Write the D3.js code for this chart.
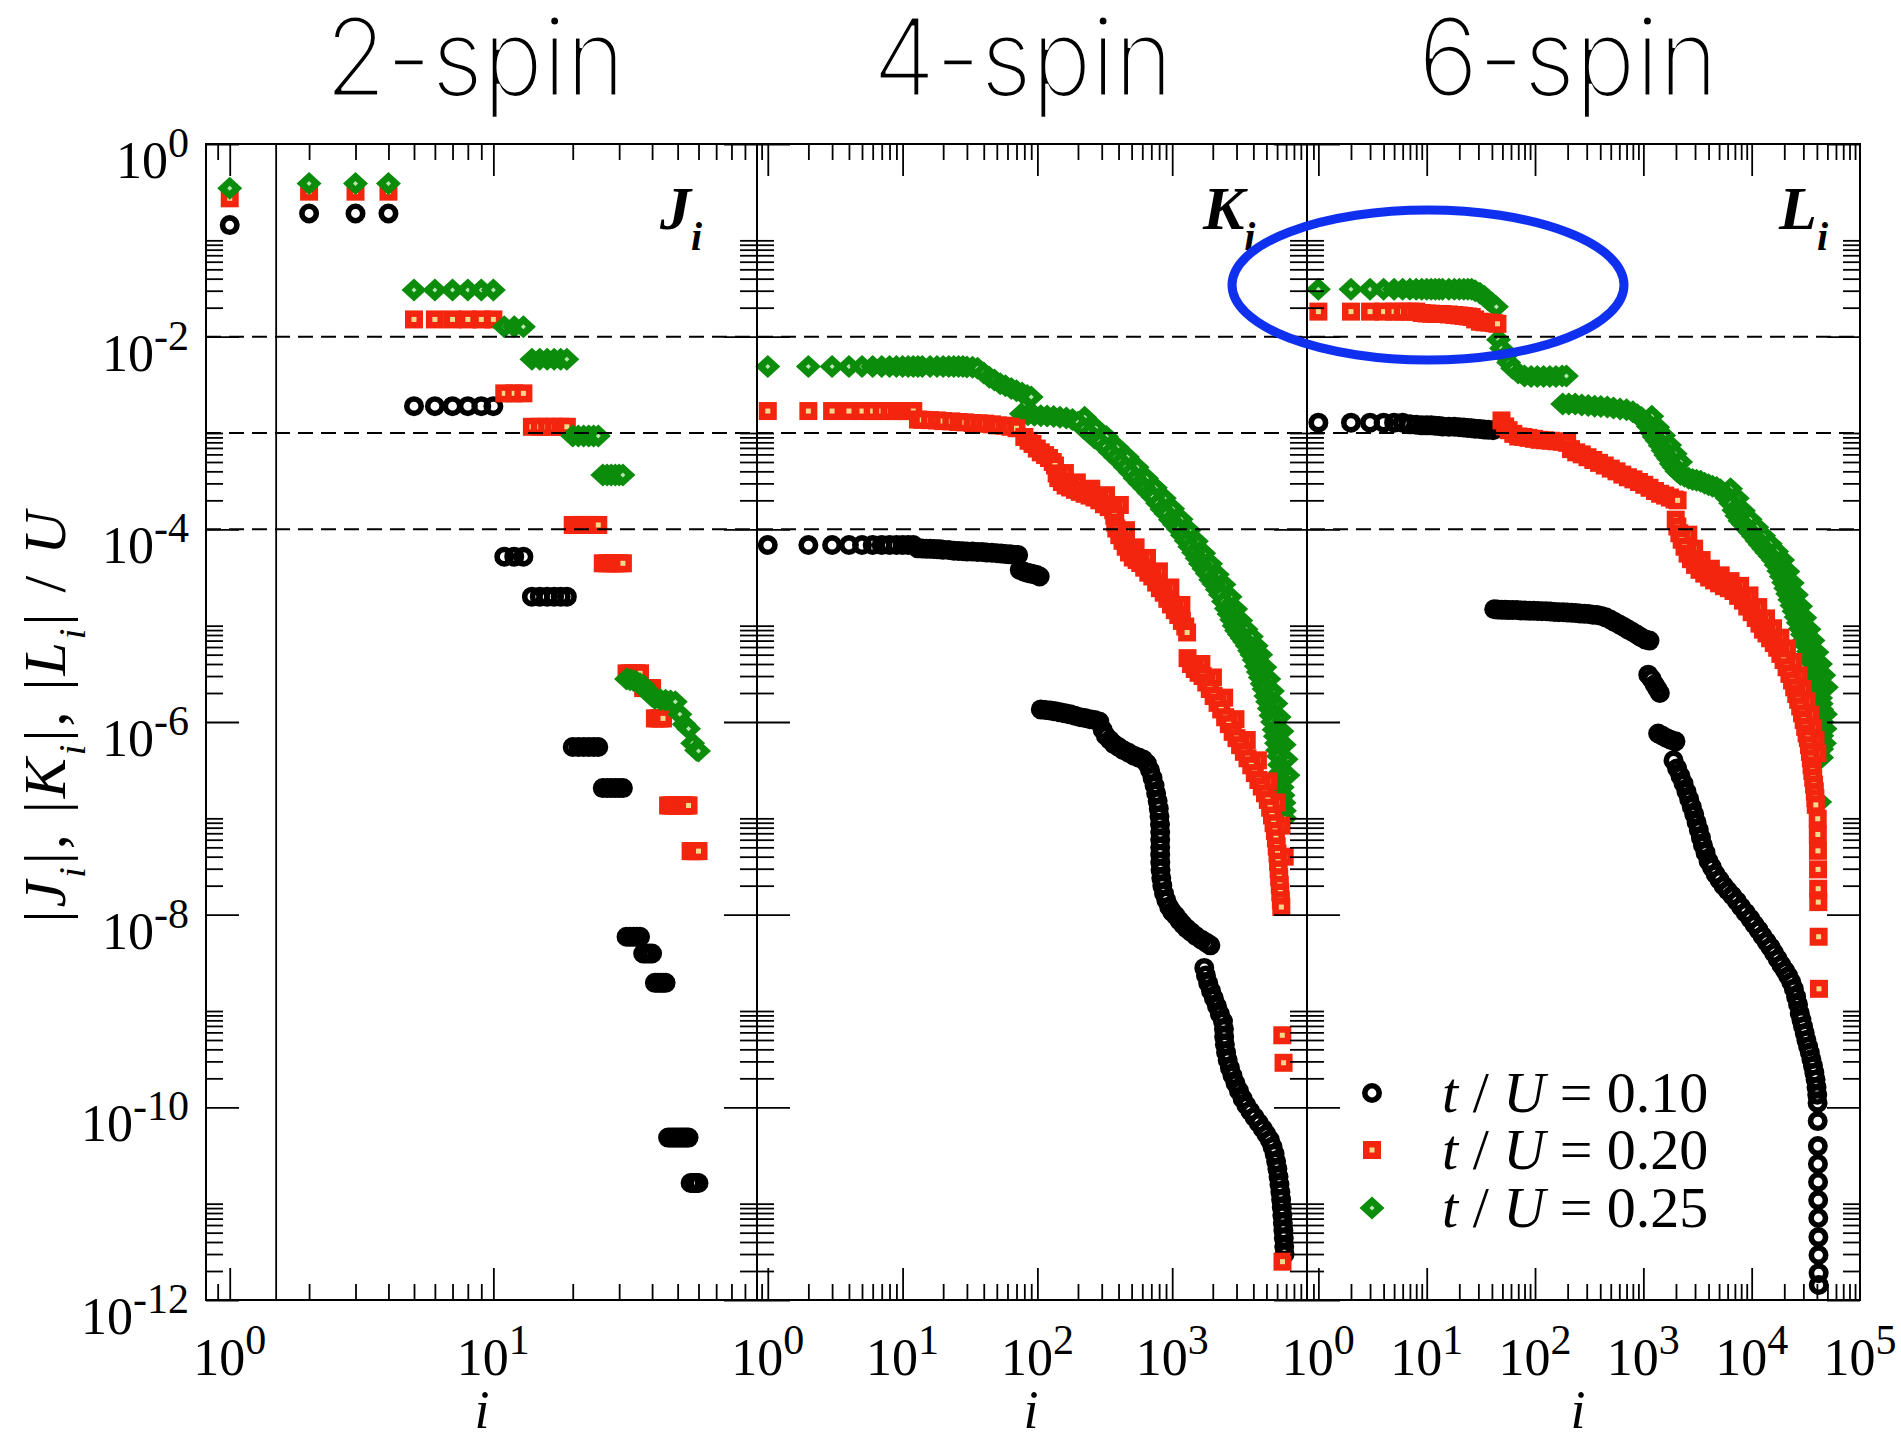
<!DOCTYPE html>
<html>
<head>
<meta charset="utf-8">
<script src="https://cdn.jsdelivr.net/npm/d3@7"></script>
<style>
  body { margin: 0; background: #ffffff; }
  svg text { font-family: "Liberation Serif", "Times New Roman", serif; fill: #000; }
</style>
</head>
<body>
<div id="chart"></div>
<script>
// ---- data: [i, |coupling| / U] ----

// 2-spin couplings J_i
var spin2Black = [[1,0.144],[2,0.19],[3,0.19],[4,0.19],
  [5,1.9e-3],[6,1.9e-3],[7,1.9e-3],[8,1.9e-3],[9,1.9e-3],[10,1.9e-3],
  [11,5.2e-5],[12,5.2e-5],[13,5.2e-5],
  [14,2.0e-5],[15,2.0e-5],[16,2.0e-5],[17,2.0e-5],[18,2.0e-5],[19,2.0e-5],
  [20,5.5e-7],[21,5.5e-7],[22,5.5e-7],[23,5.5e-7],[24,5.5e-7],[25,5.5e-7],
  [26,2.06e-7],[27,2.06e-7],[28,2.06e-7],[29,2.06e-7],[30,2.06e-7],[31,2.06e-7],
  [32,5.9e-9],[33,5.9e-9],[34,5.9e-9],[35,5.9e-9],[36,5.9e-9],
  [37,3.95e-9],[38,3.95e-9],[39,3.95e-9],[40,3.95e-9],
  [41,1.96e-9],[42,1.96e-9],[43,1.96e-9],[44,1.96e-9],[45,1.96e-9],
  [46,4.85e-11],[47,4.85e-11],[48,4.85e-11],[49,4.85e-11],[50,4.85e-11],[51,4.85e-11],[52,4.85e-11],[53,4.85e-11],[54,4.85e-11],[55,4.85e-11],
  [56,1.64e-11],[57,1.64e-11],[58,1.64e-11],[59,1.64e-11],[60,1.64e-11]];

var spin2Red = [[1,0.273],[2,0.32],[3,0.32],[4,0.32],
  [5,0.0151],[6,0.0151],[7,0.0151],[8,0.0151],[9,0.0151],[10,0.0151],
  [11,2.58e-3],[12,2.58e-3],[13,2.58e-3],
  [14,1.16e-3],[15,1.16e-3],[16,1.16e-3],[17,1.16e-3],[18,1.16e-3],[19,1.16e-3],
  [20,1.11e-4],[21,1.11e-4],[22,1.11e-4],[23,1.11e-4],[24,1.11e-4],[25,1.11e-4],
  [26,4.44e-5],[27,4.44e-5],[28,4.44e-5],[29,4.44e-5],[30,4.44e-5],[31,4.44e-5],
  [32,3.2e-6],[33,3.2e-6],[34,3.2e-6],[35,3.2e-6],[36,3.2e-6],
  [37,2.25e-6],[38,2.25e-6],[39,2.25e-6],[40,2.25e-6],
  [41,1.09e-6],[42,1.09e-6],[43,1.09e-6],[44,1.09e-6],
  [46,1.36e-7],[47,1.36e-7],[48,1.36e-7],[49,1.36e-7],[50,1.36e-7],[51,1.36e-7],[52,1.36e-7],[53,1.36e-7],[54,1.36e-7],[55,1.36e-7],
  [56,4.57e-8],[57,4.57e-8],[58,4.57e-8],[59,4.57e-8],[60,4.57e-8]];

var spin2Green = [[1,0.347],[2,0.39],[3,0.39],[4,0.39],
  [5,0.0305],[6,0.0305],[7,0.0305],[8,0.0305],[9,0.0305],[10,0.0305],
  [11,0.0127],[12,0.0127],[13,0.0127],
  [14,5.82e-3],[15,5.82e-3],[16,5.82e-3],[17,5.82e-3],[18,5.82e-3],[19,5.82e-3],
  [20,9.3e-4],[21,9.3e-4],[22,9.3e-4],[23,9.3e-4],[24,9.3e-4],[25,9.3e-4],
  [26,3.66e-4],[27,3.66e-4],[28,3.66e-4],[29,3.66e-4],[30,3.66e-4],[31,3.66e-4],
  [32,2.8e-6],[33,2.75e-6],[34,2.7e-6],[35,2.6e-6],[36,2.5e-6],[37,2.4e-6],[38,2.2e-6],[39,2.0e-6],[40,1.85e-6],
  [41,1.75e-6],[43,1.7e-6],[45,1.68e-6],[47,1.65e-6],[49,1.62e-6],[51,1.2e-6],[53,9.5e-7],[55,8.5e-7],[57,6.0e-7],[59,5.1e-7],[60,5.0e-7]];

// 4-spin couplings K_i
var spin4Black = [[1,6.87e-5],[2,6.87e-5],[3,6.87e-5],[4,6.87e-5],[5,6.87e-5],[6,6.87e-5],[7,6.87e-5],[8,6.87e-5],[9,6.87e-5],[10,6.87e-5],[11,6.87e-5],[12,6.87e-5],
  [13,6.35e-5],[14,6.33e-5],[15,6.3e-5],[16,6.28e-5],[17,6.25e-5],[18,6.22e-5],[19,6.2e-5],[20,6.15e-5],[22,6.1e-5],[24,6.0e-5],[26,5.97e-5],[28,5.93e-5],[30,5.9e-5],
  [33,5.87e-5],[36,5.83e-5],[39,5.8e-5],[42,5.75e-5],[46,5.7e-5],[50,5.65e-5],[54,5.6e-5],[58,5.55e-5],[63,5.5e-5],[68,5.42e-5],[72,5.4e-5],
  [74,3.8e-5],[79,3.65e-5],[84,3.55e-5],[89,3.48e-5],[94,3.42e-5],[99,3.35e-5],[104,3.24e-5],
  [106,1.35e-6],[115,1.33e-6],[125,1.32e-6],[136,1.29e-6],[148,1.26e-6],[161,1.23e-6],[175,1.2e-6],[190,1.16e-6],[207,1.12e-6],[225,1.1e-6],
  [245,1.07e-6],[266,1.05e-6],[288,1.01e-6],[305,8.3e-7],[322,7.2e-7],[345,6.5e-7],[370,5.9e-7],[400,5.5e-7],[435,5.1e-7],[475,4.8e-7],
  [520,4.47e-7],[565,4.27e-7],[610,4.07e-7],[650,3.7e-7],[685,3.16e-7],[715,2.63e-7],[740,2.19e-7],[760,1.82e-7],[780,1.51e-7],[795,1.26e-7],
  [805,1.05e-7],[812,8.7e-8],[815,7.2e-8],[815,6.0e-8],[815,5.0e-8],[815,4.2e-8],[816,3.47e-8],[820,2.9e-8],[830,2.4e-8],[845,2.0e-8],
  [870,1.66e-8],[905,1.41e-8],[950,1.2e-8],[1000,1.07e-8],[1060,9.8e-9],[1130,8.7e-9],[1200,7.9e-9],[1280,7.2e-9],[1380,6.6e-9],[1500,6.0e-9],
  [1650,5.5e-9],[1800,5.1e-9],[1920,4.8e-9],
  [1730,2.8e-9],[1780,2.34e-9],[1850,1.95e-9],[1940,1.62e-9],[2040,1.35e-9],[2150,1.12e-9],[2260,9.3e-10],[2380,7.8e-10],[2420,6.5e-10],[2430,5.4e-10],
  [2460,4.5e-10],[2510,3.7e-10],[2580,3.1e-10],[2680,2.57e-10],[2800,2.14e-10],[2950,1.78e-10],[3130,1.48e-10],[3330,1.23e-10],[3550,1.05e-10],[3800,9.1e-11],
  [4080,7.9e-11],[4380,6.9e-11],[4700,6.0e-11],[5000,5.25e-11],[5300,4.6e-11],[5550,3.9e-11],[5750,3.3e-11],[5900,2.75e-11],[6030,2.3e-11],[6150,1.9e-11],
  [6250,1.58e-11],[6350,1.32e-11],[6430,1.1e-11],[6500,9.1e-12],[6560,7.6e-12],[6620,6.3e-12],[6680,5.25e-12],[6730,4.4e-12],[6780,3.6e-12],[6820,3.0e-12]];

var spin4Red = [[1,1.69e-3],[2,1.69e-3],[3,1.69e-3],[4,1.69e-3],[5,1.69e-3],[6,1.69e-3],[7,1.69e-3],[8,1.69e-3],[9,1.69e-3],[10,1.69e-3],[11,1.69e-3],[12,1.69e-3],
  [13,1.38e-3],[14,1.37e-3],[16,1.36e-3],[18,1.35e-3],[20,1.33e-3],[23,1.32e-3],[26,1.3e-3],[29,1.29e-3],[33,1.27e-3],[37,1.26e-3],[41,1.25e-3],
  [46,1.23e-3],[51,1.2e-3],[57,1.19e-3],[63,1.16e-3],[70,1.12e-3],
  [80,9.1e-4],[86,8.3e-4],[92,7.7e-4],[99,6.9e-4],[106,6.3e-4],[114,5.9e-4],[122,5.5e-4],[130,5.0e-4],[135,4.6e-4],[139,3.8e-4],[143,3.4e-4],
  [152,3.1e-4],[162,2.85e-4],[175,2.72e-4],[190,2.57e-4],[206,2.45e-4],[224,2.34e-4],[244,2.24e-4],[265,2.14e-4],[288,2.0e-4],[312,1.82e-4],
  [338,1.7e-4],[365,1.58e-4],[372,1.38e-4],[378,1.17e-4],[385,1.02e-4],[405,8.7e-5],[428,7.6e-5],[452,6.6e-5],[478,5.75e-5],[510,5.1e-5],
  [545,4.8e-5],[580,4.47e-5],[620,4.0e-5],[665,3.55e-5],[712,3.24e-5],[760,2.8e-5],[810,2.45e-5],[865,2.2e-5],[920,1.9e-5],[980,1.66e-5],
  [1045,1.45e-5],[1110,1.29e-5],[1180,1.12e-5],[1250,9.8e-6],[1290,8.5e-6],
  [1300,4.6e-6],[1380,4.0e-6],[1470,3.55e-6],[1570,3.24e-6],[1680,3.0e-6],[1790,2.57e-6],[1900,2.2e-6],[2030,1.86e-6],[2170,1.58e-6],[2310,1.35e-6],
  [2470,1.12e-6],[2630,9.5e-7],[2810,7.9e-7],[3000,6.8e-7],[3190,5.75e-7],[3400,4.9e-7],[3620,4.2e-7],[3860,3.55e-7],[4100,2.95e-7],[4360,2.5e-7],
  [4620,2.14e-7],[4880,1.82e-7],[5120,1.55e-7],[5330,1.29e-7],[5500,1.07e-7],[5650,8.9e-8],[5780,7.4e-8],[5880,6.2e-8],[5960,5.1e-8],[6040,4.3e-8],
  [6100,3.55e-8],[6160,2.95e-8],[6220,2.45e-8],[6280,2.04e-8],[6340,1.7e-8],[6400,1.41e-8],[6450,1.2e-8],
  [6560,5.6e-10],[6700,2.9e-10],[6580,2.5e-12]];
// right/upper edge of the wide red band
var spin4RedEdge = [[160,3.84e-4],[196,3.07e-4],[251,2.64e-4],[323,2.26e-4],[409,1.79e-4],[454,9.8e-5],[535,6.5e-5],[650,5.05e-5],
  [797,3.66e-5],[969,2.49e-5],[1170,1.64e-5],[1646,4.0e-6],[2005,2.9e-6],[2430,1.79e-6],[2946,1.07e-6],[3573,6.5e-7],[4323,4.0e-7],
  [5174,2.42e-7],[5970,1.46e-7],[6470,8.4e-8],[6830,4.0e-8]];

var spin4Green = [[1,4.9e-3],[2,4.9e-3],[3,4.9e-3],[4,4.9e-3],[5,4.9e-3],[6,4.9e-3],[7,4.9e-3],[8,4.9e-3],[9,4.9e-3],[10,4.9e-3],
  [11,4.9e-3],[12,4.9e-3],[13,4.9e-3],[14,4.9e-3],[16,4.9e-3],[18,4.9e-3],[20,4.9e-3],[22,4.9e-3],[24,4.9e-3],[26,4.9e-3],[28,4.9e-3],
  [30,4.85e-3],[33,4.8e-3],[36,4.7e-3],[40,4.2e-3],[44,3.8e-3],[48,3.55e-3],[53,3.25e-3],[58,3.1e-3],[64,2.9e-3],[70,2.75e-3],[77,2.6e-3],[84,2.45e-3],[90,2.37e-3],
  [76,1.58e-3],[85,1.55e-3],[95,1.53e-3],[106,1.51e-3],[118,1.5e-3],[132,1.48e-3],[147,1.46e-3],[164,1.43e-3],[182,1.38e-3],[200,1.29e-3],
  [220,1.12e-3],[242,1.0e-3],[265,8.9e-4],[290,8.1e-4],[318,7.2e-4],[348,6.3e-4],[380,5.6e-4],[415,5.0e-4],[450,4.4e-4],[490,3.9e-4],
  [530,3.4e-4],[575,3.0e-4],[620,2.7e-4],[670,2.4e-4],[720,2.16e-4],[780,1.86e-4],[840,1.62e-4],[900,1.45e-4],[970,1.26e-4],[1040,1.12e-4],
  [1110,1.01e-4],[1190,8.7e-5],[1270,7.6e-5],[1350,6.6e-5],[1440,5.75e-5],[1530,5.0e-5],[1620,4.4e-5],[1720,3.9e-5],[1820,3.47e-5],[1930,3.0e-5],
  [2040,2.7e-5],[2160,2.37e-5],[2280,2.1e-5],[2400,1.78e-5],[2520,1.51e-5],[2640,1.32e-5],[2760,1.15e-5],[2880,1.0e-5],[3000,8.9e-6],[3150,8.1e-6],
  [3300,7.4e-6],[3450,6.8e-6],[3600,6.2e-6],[3750,5.5e-6],[3900,5.0e-6],[4050,4.4e-6],[4200,3.8e-6],[4350,3.3e-6],[4500,2.9e-6],[4650,2.5e-6],
  [4800,2.2e-6],[4950,1.86e-6],[5100,1.62e-6],[5250,1.38e-6],[5400,1.17e-6],[5550,1.0e-6],[5700,8.3e-7],[5820,7.1e-7],[5940,6.0e-7],[6050,5.1e-7],
  [6150,4.4e-7],[6250,3.6e-7],[6350,3.0e-7],[6450,2.5e-7],[6550,2.1e-7],[6650,1.74e-7],[6750,1.45e-7],[6800,1.2e-7],[6850,1.0e-7]];
var spin4GreenEdge = [[224,1.46e-3],[271,1.13e-3],[325,9.2e-4],[390,7.1e-4],[465,5.65e-4],[549,4.4e-4],[644,3.4e-4],[750,2.7e-4],
  [874,2.1e-4],[1008,1.64e-4],[1165,1.27e-4],[1333,9.8e-5],[1512,7.5e-5],[1714,5.65e-5],[1926,4.4e-5],[2162,3.4e-5],[2419,2.68e-5],
  [2688,2.0e-5],[2957,1.49e-5],[3226,1.13e-5],[3528,9.2e-6],[3864,7.7e-6],[4200,6.2e-6],[4536,5.0e-6],[4872,3.7e-6],[5208,2.8e-6],
  [5544,2.1e-6],[5880,1.56e-6],[6216,1.13e-6],[6518,8.0e-7],[6776,5.8e-7],[7000,4.1e-7],[7224,2.8e-7]];

// 6-spin couplings L_i
var spin6Black = [[1,1.28e-3],[2,1.28e-3],[3,1.28e-3],[4,1.28e-3],[5,1.28e-3],[6,1.28e-3],
  [7,1.23e-3],[8,1.22e-3],[9,1.2e-3],[10,1.2e-3],[11,1.2e-3],[12,1.19e-3],[13,1.18e-3],[14,1.17e-3],[16,1.16e-3],[18,1.16e-3],[20,1.15e-3],
  [22,1.14e-3],[24,1.13e-3],[26,1.12e-3],[28,1.11e-3],[31,1.1e-3],[34,1.09e-3],[37,1.08e-3],[41,1.07e-3],
  [42,1.48e-5],[45,1.47e-5],[49,1.46e-5],[53,1.46e-5],[57,1.45e-5],[62,1.45e-5],[68,1.45e-5],[74,1.44e-5],[81,1.44e-5],[89,1.43e-5],
  [97,1.43e-5],[106,1.42e-5],[116,1.41e-5],[127,1.41e-5],[139,1.4e-5],[152,1.39e-5],[166,1.38e-5],[182,1.38e-5],[199,1.37e-5],[218,1.36e-5],
  [238,1.35e-5],[260,1.34e-5],[285,1.33e-5],[312,1.32e-5],[342,1.3e-5],[374,1.29e-5],[410,1.26e-5],[450,1.22e-5],[495,1.16e-5],[545,1.09e-5],
  [600,1.03e-5],[660,9.7e-6],[725,9.1e-6],[795,8.6e-6],[870,8.1e-6],[950,7.6e-6],[1040,7.2e-6],[1140,7.0e-6],
  [1110,3.1e-6],[1190,2.8e-6],[1270,2.45e-6],[1350,2.2e-6],[1420,2.0e-6],
  [1370,7.6e-7],[1500,7.2e-7],[1650,6.8e-7],[1800,6.5e-7],[1980,6.3e-7],
  [1900,4.0e-7],[2050,3.3e-7],[2200,2.75e-7],[2350,2.3e-7],[2500,1.9e-7],[2650,1.58e-7],[2800,1.32e-7],[2950,1.1e-7],[3100,9.1e-8],[3250,7.6e-8],
  [3400,6.3e-8],[3550,5.25e-8],[3750,4.4e-8],[4000,3.6e-8],[4300,3.1e-8],[4650,2.63e-8],[5050,2.3e-8],[5500,2.0e-8],[6000,1.78e-8],[6600,1.58e-8],
  [7300,1.38e-8],[8000,1.2e-8],[8800,1.05e-8],[9700,9.1e-9],[10600,7.9e-9],[11600,6.9e-9],[12600,6.0e-9],[13700,5.25e-9],[14900,4.6e-9],[16100,4.0e-9],
  [17400,3.47e-9],[18800,3.0e-9],[20300,2.63e-9],[21800,2.3e-9],[23200,2.0e-9],[24500,1.7e-9],[25700,1.41e-9],[26800,1.17e-9],[27800,9.5e-10],[28800,8.1e-10],
  [29800,6.9e-10],[30900,5.9e-10],[32000,5.0e-10],[33200,4.27e-10],[34400,3.7e-10],[35600,3.16e-10],[36800,2.7e-10],[37900,2.29e-10],[38900,1.95e-10],[39700,1.62e-10],
  [40300,1.35e-10],[40600,1.11e-10],[40700,7.2e-11],[40800,3.96e-11],[40900,2.58e-11],[41000,1.68e-11],[41100,1.09e-11],[41200,7.1e-12],[41300,4.5e-12],[41400,2.93e-12],
  [41500,1.9e-12],[41600,1.43e-12]];

var spin6Red = [[1,0.0182],[2,0.0182],[3,0.0182],[4,0.0182],[5,0.0182],[6,0.0182],[7,0.0182],[8,0.0182],
  [9,0.0176],[10,0.0174],[11,0.0173],[12,0.0172],[13,0.0172],[14,0.0172],[16,0.017],[18,0.0168],[20,0.0166],[22,0.0164],[24,0.0162],[26,0.016],
  [28,0.0151],[31,0.0143],[34,0.0141],[38,0.014],[42,0.0138],[45,0.0136],
  [49,1.35e-3],[53,1.17e-3],[57,1.07e-3],[63,9.8e-4],[70,9.2e-4],[78,9.1e-4],[87,8.9e-4],[98,8.7e-4],[110,8.5e-4],[124,8.4e-4],
  [140,8.3e-4],[158,8.2e-4],[178,8.1e-4],[198,7.9e-4],[215,6.8e-4],[240,6.3e-4],[270,6.0e-4],[305,5.6e-4],[345,5.25e-4],[390,4.9e-4],
  [440,4.6e-4],[500,4.27e-4],[565,4.0e-4],[640,3.7e-4],[720,3.47e-4],[810,3.3e-4],[910,3.1e-4],[1020,2.9e-4],[1140,2.7e-4],[1280,2.5e-4],
  [1430,2.34e-4],[1590,2.24e-4],[1760,2.14e-4],[1940,2.04e-4],[2070,2.0e-4],
  [1990,1.26e-4],[2060,1.07e-4],[2150,9.1e-5],[2260,7.8e-5],[2400,6.6e-5],[2560,5.6e-5],[2750,4.9e-5],[3000,4.27e-5],[3300,3.8e-5],[3650,3.47e-5],
  [4050,3.16e-5],[4500,2.95e-5],[5000,2.75e-5],[5550,2.57e-5],[6150,2.45e-5],[6800,2.29e-5],[7500,2.04e-5],[8300,1.82e-5],[9100,1.58e-5],[10000,1.38e-5],
  [10900,1.2e-5],[11800,1.05e-5],[12700,9.1e-6],[13700,8.3e-6],[14800,7.4e-6],[16000,6.6e-6],[17200,5.9e-6],[18400,5.1e-6],[19700,4.4e-6],[21000,3.7e-6],
  [22300,3.16e-6],[23600,2.7e-6],[24700,2.29e-6],[25800,1.95e-6],[26900,1.7e-6],[28050,1.45e-6],[29170,1.23e-6],[30200,1.05e-6],[31190,8.9e-7],[32140,7.6e-7],
  [33040,6.8e-7],[33810,5.75e-7],[34510,4.9e-7],[35160,4.2e-7],[35730,3.55e-7],[36310,3.1e-7],[36980,2.63e-7],[37670,2.24e-7],[38280,1.9e-7],[38730,1.62e-7],
  [39080,1.38e-7],
  [40700,9.9e-8],[40800,6.8e-8],[40900,4.6e-8],[41000,2.95e-8],[41100,1.86e-8],[41200,1.35e-8],[41500,5.9e-9],[41800,1.7e-9]];
var spin6RedEdge = [[2600,8.8e-5],[2944,6.3e-5],[3450,4.8e-5],[4200,3.9e-5],[5175,3.33e-5],[6380,2.9e-5],[7820,2.59e-5],[9545,2.06e-5],
  [11500,1.56e-5],[13570,1.19e-5],[15755,9.4e-6],[18400,7.5e-6],[21160,5.8e-6],[24150,4.2e-6],[27140,3.05e-6],[29670,2.2e-6],
  [32260,1.64e-6],[34730,1.19e-6],[36960,8.6e-7],[38880,6.5e-7],[40430,4.75e-7]];

var spin6Green = [[1,0.031],[2,0.031],[3,0.031],[4,0.031],[5,0.031],[6,0.031],[7,0.031],[8,0.031],[9,0.031],[10,0.031],
  [11,0.031],[12,0.031],[13,0.031],[14,0.031],[16,0.031],[18,0.031],[20,0.031],[22,0.031],[24,0.031],[26,0.031],[28,0.03],
  [31,0.0282],[34,0.0263],[37,0.024],[40,0.0224],[44,0.0204],
  [46,9.3e-3],[49,7.6e-3],[53,6.3e-3],[57,5.4e-3],[62,4.7e-3],[70,4.2e-3],[80,3.9e-3],[92,3.85e-3],[105,3.85e-3],[120,3.85e-3],
  [137,3.85e-3],[156,3.85e-3],[178,3.9e-3],[195,3.9e-3],
  [180,2.0e-3],[205,2.0e-3],[235,2.0e-3],[270,1.95e-3],[310,1.93e-3],[355,1.9e-3],[405,1.88e-3],[465,1.86e-3],[530,1.82e-3],[610,1.78e-3],
  [700,1.74e-3],[800,1.66e-3],
  [880,1.55e-3],[960,1.45e-3],[1040,1.32e-3],[1110,1.17e-3],[1180,1.02e-3],[1260,9.1e-4],[1340,8.3e-4],[1430,7.4e-4],[1520,6.6e-4],[1610,5.9e-4],
  [1710,5.4e-4],[1810,4.8e-4],[1920,4.4e-4],[2040,4.0e-4],[2200,3.7e-4],[2400,3.55e-4],[2620,3.4e-4],[2850,3.3e-4],[3100,3.24e-4],[3380,3.16e-4],
  [3680,3.0e-4],[4000,2.9e-4],[4350,2.8e-4],[4750,2.72e-4],[5150,2.57e-4],[5550,2.34e-4],[5950,2.1e-4],[6400,1.86e-4],[6850,1.58e-4],[7300,1.38e-4],
  [7800,1.23e-4],[8400,1.12e-4],[9000,1.02e-4],[9700,9.3e-5],[10400,8.5e-5],[11200,7.6e-5],[12000,6.9e-5],[12900,6.3e-5],[13800,5.75e-5],[14800,5.25e-5],
  [15800,4.8e-5],[16800,4.27e-5],[17800,3.7e-5],[18800,3.24e-5],[19700,2.8e-5],[20600,2.45e-5],[21500,2.14e-5],[22500,1.86e-5],[23500,1.62e-5],[24600,1.41e-5],
  [25700,1.23e-5],[26900,1.07e-5],[28100,9.3e-6],[29400,8.1e-6],[30700,7.1e-6],[32000,6.2e-6],[33400,5.4e-6],[34800,4.7e-6],[36200,4.1e-6],[37600,3.55e-6],
  [39000,3.1e-6],[40300,2.7e-6],[41500,2.34e-6],[42500,2.04e-6],[43300,1.78e-6],[43900,1.55e-6],[44300,1.35e-6],[44500,1.17e-6],[44600,1.0e-6],[44500,8.5e-7],
  [44400,7.2e-7],[44300,6.2e-7],[44300,5.25e-7],[44200,4.27e-7],[42400,1.48e-7]];
var spin6GreenEdge = [[1196,1.49e-3],[1357,1.15e-3],[1541,9.4e-4],[1748,7.5e-4],[1967,6.1e-4],[2208,5.0e-4],
  [6383,2.64e-4],[7360,2.1e-4],[8395,1.56e-4],[9660,1.27e-4],[11155,1.05e-4],[12880,8.6e-5],[14835,7.1e-5],[17020,5.9e-5],
  [19320,4.8e-5],[21620,3.66e-5],[23690,2.77e-5],[25875,2.1e-5],[28290,1.59e-5],[30935,1.21e-5],[33810,9.2e-6],[36800,7.0e-6],
  [40020,5.3e-6],[43240,4.0e-6],[46345,3.05e-6],[48875,2.3e-6],[48000,1.2e-6],[47500,8.5e-7],[47000,6.0e-7]];

// labels
var panelTitles = ["2-spin", "4-spin", "6-spin"];
var panelSymbols = ["J", "K", "L"];
var xLabelExps = [[0, 1], [0, 1, 2, 3], [0, 1, 2, 3, 4, 5]];
var yLabelExps = [0, -2, -4, -6, -8, -10, -12];
var legendValues = ["0.10", "0.20", "0.25"];
var dashedLevels = [1e-2, 1e-3, 1e-4];
var spin2Separator = 1.5;

// ---- layout ----
var width = 1901, height = 1437;
var yTop = 144, yBottom = 1300;
var RED = "#f3250e", GREEN = "#0b8c0b";

var svg = d3.select("#chart").append("svg")
  .attr("width", width)
  .attr("height", height);

svg.append("rect").attr("width", width).attr("height", height).attr("fill", "#fff");

var y = d3.scaleLog().domain([1e-12, 1]).range([yBottom, yTop]);

var panels = [
  { left: 206, right: 757, lo: Math.pow(10, -0.09), hi: 100, titleX: 325, symX: 660, iX: 482,
    series: [["black", spin2Black], ["red", spin2Red], ["green", spin2Green]] },
  { left: 757, right: 1307, lo: Math.pow(10, -0.08), hi: 1e4, titleX: 873, symX: 1203, iX: 1031,
    series: [["black", spin4Black], ["green", spin4GreenEdge], ["green", spin4Green],
             ["red", spin4RedEdge], ["red", spin4Red]] },
  { left: 1307, right: 1860, lo: Math.pow(10, -0.105), hi: 1e5, titleX: 1418, symX: 1779, iX: 1578,
    series: [["black", spin6Black], ["green", spin6GreenEdge], ["green", spin6Green],
             ["red", spin6RedEdge], ["red", spin6Red]] }
];

function exponentOf(v) { return Math.floor(Math.log10(v) + 1e-9); }
function mantissaOf(v) { return Math.round(v / Math.pow(10, exponentOf(v))); }

// draw one set of ticks with a d3 axis, then strip the axis line
function drawTicks(axis, values, size, tx, ty) {
  var g = svg.append("g")
    .attr("transform", "translate(" + tx + "," + ty + ")")
    .call(axis.tickValues(values).tickSize(size).tickFormat(""));
  g.select(".domain").remove();
  g.selectAll("line").attr("stroke", "#000").attr("stroke-width", 1.8);
}

// markers: open black circles, red squares and green diamonds with a small pale core
function drawSeries(layer, kind, data, x) {
  if (kind === "black") {
    layer.selectAll(null).data(data).enter().append("circle")
      .attr("cx", function (d) { return x(d[0]); })
      .attr("cy", function (d) { return y(d[1]); })
      .attr("r", 7.2)
      .attr("fill", "none")
      .attr("stroke", "#000")
      .attr("stroke-width", 5.6);
  } else if (kind === "red") {
    var sq = layer.selectAll(null).data(data).enter().append("g")
      .attr("transform", function (d) { return "translate(" + x(d[0]) + "," + y(d[1]) + ")"; });
    sq.append("rect").attr("x", -9).attr("y", -9).attr("width", 18).attr("height", 18).attr("fill", RED);
    sq.append("rect").attr("x", -2.5).attr("y", -2.5).attr("width", 5).attr("height", 5).attr("fill", "#f4d98c");
  } else {
    var dm = layer.selectAll(null).data(data).enter().append("g")
      .attr("transform", function (d) { return "translate(" + x(d[0]) + "," + y(d[1]) + ")"; });
    dm.append("path").attr("d", "M0,-11.5L12.5,0L0,11.5L-12.5,0Z").attr("fill", GREEN);
    dm.append("path").attr("d", "M0,-2.5L2.5,0L0,2.5L-2.5,0Z").attr("fill", "#b8e6b0");
  }
}

// y ticks: major every two decades, minor ticks only in the decade above each major
var yAll = y.ticks(30);
var yMajor = yAll.filter(function (v) { return mantissaOf(v) === 1 && exponentOf(v) % 2 === 0; });
var yMinor = yAll.filter(function (v) {
  var e = exponentOf(v), m = mantissaOf(v);
  return (m > 1 && e % 2 === 0) || (m === 1 && Math.abs(e) % 2 === 1);
});

panels.forEach(function (p, pi) {
  var x = d3.scaleLog().domain([p.lo, p.hi]).range([p.left, p.right]);

  // data markers
  var layer = svg.append("g");
  p.series.forEach(function (s) { drawSeries(layer, s[0], s[1], x); });

  // x ticks, bottom and top
  var xAll = x.ticks(40).filter(function (v) { return x(v) > p.left + 1.5 && x(v) < p.right - 1.5; });
  var xMajor = xAll.filter(function (v) { return mantissaOf(v) === 1; });
  var xMinor = xAll.filter(function (v) { return mantissaOf(v) !== 1; });
  drawTicks(d3.axisBottom(x), xMajor, -32, 0, yBottom);
  drawTicks(d3.axisBottom(x), xMinor, -16, 0, yBottom);
  drawTicks(d3.axisTop(x), xMajor, -32, 0, yTop);
  drawTicks(d3.axisTop(x), xMinor, -16, 0, yTop);

  // y ticks on both sides of the panel, pointing inward
  drawTicks(d3.axisLeft(y), yMajor, -33, p.left, 0);
  drawTicks(d3.axisLeft(y), yMinor, -17, p.left, 0);
  drawTicks(d3.axisRight(y), yMajor, -33, p.right, 0);
  drawTicks(d3.axisRight(y), yMinor, -17, p.right, 0);

  // x tick labels 10^n
  xLabelExps[pi].forEach(function (e) {
    var t = svg.append("text")
      .attr("x", x(Math.pow(10, e)))
      .attr("y", 1375)
      .attr("text-anchor", "middle")
      .attr("font-size", 52);
    t.append("tspan").text("10");
    t.append("tspan").attr("dy", -21).attr("font-size", 42).text(e);
  });

  // x axis title
  svg.append("text")
    .attr("x", p.iX)
    .attr("y", 1428)
    .attr("text-anchor", "middle")
    .attr("font-size", 54)
    .attr("font-style", "italic")
    .text("i");

  // coupling symbol in the corner
  var sym = svg.append("text")
    .attr("x", p.symX)
    .attr("y", 229)
    .attr("font-size", 62)
    .attr("font-weight", "bold")
    .attr("font-style", "italic");
  sym.append("tspan").text(panelSymbols[pi]);
  sym.append("tspan").attr("dy", 21).attr("font-size", 40).text("i");

  // panel title, thinned with a white outline to mimic the light face
  svg.append("text")
    .attr("x", p.titleX)
    .attr("y", 96)
    .attr("font-size", 108)
    .attr("font-weight", 300)
    .attr("textLength", 300)
    .attr("lengthAdjust", "spacingAndGlyphs")
    .attr("stroke", "#fff")
    .attr("stroke-width", 3)
    .style("font-family", "Inter, 'Liberation Sans', sans-serif")
    .text(panelTitles[pi]);

  // extra vertical separator inside the 2-spin panel
  if (pi === 0) {
    svg.append("line")
      .attr("x1", x(spin2Separator)).attr("x2", x(spin2Separator))
      .attr("y1", yTop).attr("y2", yBottom)
      .attr("stroke", "#000").attr("stroke-width", 1.8);
  }

  // panel frame
  svg.append("rect")
    .attr("x", p.left).attr("y", yTop)
    .attr("width", p.right - p.left).attr("height", yBottom - yTop)
    .attr("fill", "none").attr("stroke", "#000").attr("stroke-width", 2);
});

// dashed reference levels across all panels
svg.selectAll(".level").data(dashedLevels).enter().append("line")
  .attr("class", "level")
  .attr("x1", 206).attr("x2", 1860)
  .attr("y1", function (d) { return y(d); })
  .attr("y2", function (d) { return y(d); })
  .attr("stroke", "#000")
  .attr("stroke-width", 2)
  .attr("stroke-dasharray", "15,8");

// y tick labels
yLabelExps.forEach(function (e) {
  var t = svg.append("text")
    .attr("x", 189)
    .attr("y", y(Math.pow(10, e)) + 34)
    .attr("text-anchor", "end")
    .attr("font-size", 52);
  t.append("tspan").text("10");
  t.append("tspan").attr("dy", -21).attr("font-size", 42).text(e);
});

// y axis title
var yTitle = svg.append("text")
  .attr("transform", "translate(65,717) rotate(-90)")
  .attr("text-anchor", "middle")
  .attr("font-size", 60)
  .attr("textLength", 411)
  .attr("lengthAdjust", "spacing");
[["|", 0], ["J", 1], ["i", 2], ["|, |", 0], ["K", 1], ["i", 2], ["|, |", 0], ["L", 1], ["i", 2], ["| / ", 0], ["U", 1]]
  .forEach(function (part, k, arr) {
    var ts = yTitle.append("tspan").text(part[0]);
    if (part[1] > 0) ts.attr("font-style", "italic");
    if (part[1] === 2) ts.attr("font-size", 38).attr("dy", 20);
    if (k > 0 && arr[k - 1][1] === 2) ts.attr("dy", -20);
  });

// legend
var legend = svg.append("g");
var legendKinds = ["black", "red", "green"];
var legendRows = [1093, 1150, 1208];
legendKinds.forEach(function (kind, k) {
  var rowY = legendRows[k];
  var mg = legend.append("g");
  drawSeries(mg, kind, [[1, 1]], function () { return 1372; });
  mg.selectAll("circle").attr("cx", 1372).attr("cy", rowY);
  mg.selectAll("g").attr("transform", "translate(1372," + rowY + ")");
  var t = legend.append("text")
    .attr("x", 1442)
    .attr("y", rowY + 19)
    .attr("font-size", 58);
  t.append("tspan").attr("font-style", "italic").text("t");
  t.append("tspan").text(" / ");
  t.append("tspan").attr("font-style", "italic").text("U");
  t.append("tspan").text(" = " + legendValues[k]);
});

// highlight ellipse around the 6-spin plateau
svg.append("ellipse")
  .attr("cx", 1428).attr("cy", 285)
  .attr("rx", 196).attr("ry", 75)
  .attr("fill", "none")
  .attr("stroke", "#1030f0")
  .attr("stroke-width", 9);
</script>
</body>
</html>
